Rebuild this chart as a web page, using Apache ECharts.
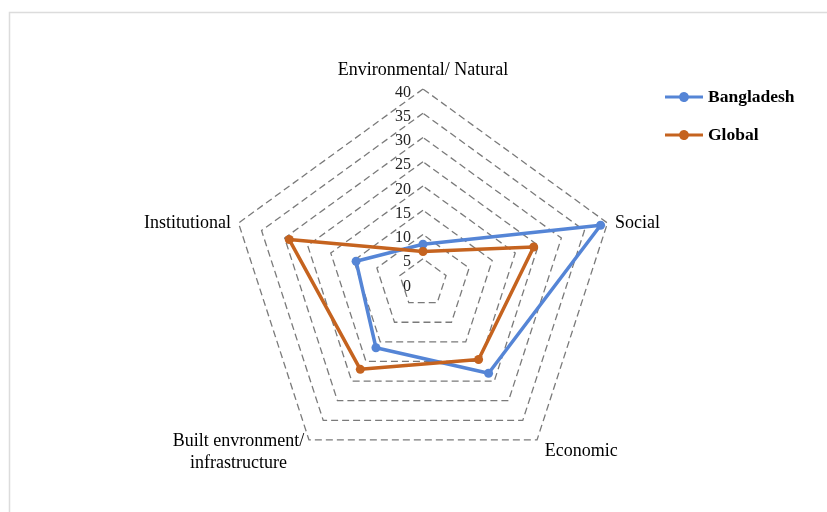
<!DOCTYPE html>
<html>
<head>
<meta charset="utf-8">
<script src="https://cdn.jsdelivr.net/npm/echarts@6/dist/echarts.min.js"></script>
<style>html,body{margin:0;padding:0;background:#fff;}#c{width:827px;height:512px;}</style>
</head>
<body>
<div id="c"></div>
<script>
// Indicators listed counterclockwise from the top (ECharts order)
const indicatorNames = ['Environmental/ Natural', 'Institutional', 'Built envronment/\ninfrastructure', 'Economic', 'Social'];
const axisMax = 40;
const bangladesh = [8, 14.5, 16.5, 23, 38.5];
const globalVals = [6.5, 29, 22, 19.5, 24];
const seriesNames = ['Bangladesh', 'Global'];

const serif = 'Liberation Serif, Times New Roman, serif';
const legendIcon = 'path://M0,3.5H14.23A5,5 0 0 1 23.77,3.5H38V6.5H23.77A5,5 0 0 1 14.23,6.5H0Z';

function nameFormatter(name) {
  const lines = name.split('\n');
  if (lines.length > 1) {
    return lines.map((l, i) => (i === 0 ? '{b|' : '{c|') + l + '}').join('\n');
  }
  if (name === 'Economic') return '{d|' + name + '}';
  if (name === 'Social' || name === 'Institutional') return '{e|' + name + '}';
  return name;
}

const chart = echarts.init(document.getElementById('c'), null, {renderer: 'canvas'});
chart.setOption({
  backgroundColor: '#ffffff',
  animation: false,
  graphic: [{
    type: 'rect', left: 7, top: 10, silent: true,
    shape: {x: 0, y: 0, width: 840, height: 520},
    style: {fill: 'none', stroke: '#dcdcdc', lineWidth: 1.5}
  }],
  legend: {
    orient: 'vertical', left: 660, top: 83, itemGap: 20,
    itemWidth: 38, itemHeight: 10,
    icon: legendIcon,
    textStyle: {fontFamily: serif, fontWeight: 'bold', fontSize: 17.5, color: '#000'},
    data: seriesNames
  },
  radar: {
    center: [423, 283], radius: 194, startAngle: 90,
    splitNumber: 8, shape: 'polygon',
    nameGap: 8,
    axisName: {
      color: '#000', fontFamily: serif, fontSize: 18, lineHeight: 22,
      formatter: nameFormatter,
      rich: {
        b: {fontFamily: serif, fontSize: 18, color: '#000', align: 'center', lineHeight: 34},
        c: {fontFamily: serif, fontSize: 18, color: '#000', align: 'center', lineHeight: 10},
        d: {fontFamily: serif, fontSize: 18, color: '#000', lineHeight: 22, padding: [10, 0, 0, 3]},
        e: {fontFamily: serif, fontSize: 18, color: '#000', lineHeight: 22, padding: [6, 0, 0, 0]}
      }
    },
    axisLine: {show: false},
    axisTick: {show: false},
    splitArea: {show: false},
    splitLine: {lineStyle: {color: '#7a7a7a', width: 1.3, type: [7, 4]}},
    indicator: indicatorNames.map((n, i) => {
      const o = {name: n, max: axisMax, min: 0};
      if (i === 0) o.axisLabel = {show: true, color: '#222', fontFamily: serif, fontSize: 16, margin: 12, verticalAlign: 'top', lineHeight: 7};
      return o;
    })
  },
  series: [{
    type: 'radar',
    symbol: 'circle', symbolSize: 9,
    data: [
      {name: seriesNames[0], value: bangladesh,
       lineStyle: {color: '#5585D6', width: 3.5}, itemStyle: {color: '#5585D6'}},
      {name: seriesNames[1], value: globalVals,
       lineStyle: {color: '#C5631F', width: 3.5}, itemStyle: {color: '#C5631F'}}
    ]
  }]
});
</script>
</body>
</html>
